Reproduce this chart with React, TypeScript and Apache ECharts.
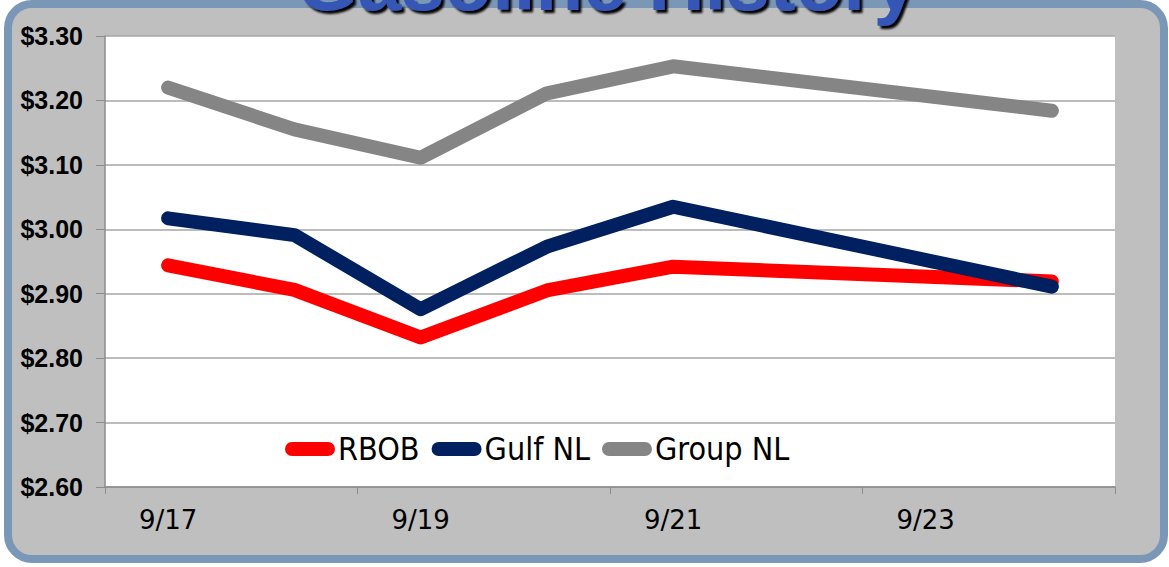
import React, { useEffect, useRef } from "react";
import * as echarts from "echarts";

const categories = ["9/17", "9/18", "9/19", "9/20", "9/21", "9/22", "9/23", "9/24"];
const rbob = [2.944, 2.906, 2.832, 2.905, 2.942, null, null, 2.919];
const gulfNL = [3.017, 2.991, 2.876, 2.973, 3.035, null, null, 2.911];
const groupNL = [3.22, 3.155, 3.111, 3.211, 3.253, null, null, 3.184];
const yTicks = { min: 2.6, max: 3.3, interval: 0.1 };
const title = "Gasoline History";

export default function App() {
  const ref = useRef<HTMLDivElement>(null);
  useEffect(() => {
    if (!ref.current) return;
    const chart = echarts.init(ref.current, null, { renderer: "svg" });
    const mkSeries = (name: string, data: (number | null)[], color: string) => ({
      name,
      type: "line",
      data,
      connectNulls: true,
      symbol: "none",
      color,
      lineStyle: { color, width: 14, cap: "round", join: "round" },
      z: 3,
    });
    chart.setOption({
      animation: false,
      graphic: [
        {
          type: "rect",
          shape: { x: 8, y: 4, width: 1156, height: 555, r: 24 },
          style: { fill: "#bfbfbf", stroke: "#7b97b8", lineWidth: 8 },
          z: -10,
          silent: true,
        },
        {
          type: "text",
          x: 607,
          y: -17,
          style: {
            text: title,
            fontFamily: "Liberation Sans",
            fontWeight: "bold",
            fontSize: 78,
            fill: "#3457b4",
            align: "center",
            verticalAlign: "middle",
            textShadowColor: "#000000",
            textShadowOffsetX: 3,
            textShadowOffsetY: 3,
            textShadowBlur: 2,
          },
          z: 100,
        },
      ],
      grid: {
        left: 105,
        right: 54,
        top: 36,
        bottom: 80,
        show: true,
        backgroundColor: "#ffffff",
        borderWidth: 0,
      },
      legend: {
        left: 285,
        top: 433,
        padding: 0,
        itemGap: 12,
        itemWidth: 50,
        itemHeight: 14,
        icon: "path://M7,0 L43,0 A7,7 0 0 1 43,14 L7,14 A7,7 0 0 1 7,0 Z",
        textStyle: {
          fontFamily: "Liberation Sans Narrow, DejaVu Sans Condensed, sans-serif",
          fontSize: 32,
          color: "#000000",
          padding: [0, 0, 0, -2],
        },
        data: ["RBOB", "Gulf NL", "Group NL"],
      },
      xAxis: {
        type: "category",
        data: categories,
        boundaryGap: true,
        axisLine: { lineStyle: { color: "#8c8c8c", width: 1.5 } },
        axisTick: { show: true, interval: 1, length: 7, lineStyle: { color: "#8c8c8c" } },
        axisLabel: {
          interval: 1,
          margin: 20,
          fontFamily: "DejaVu Sans",
          fontSize: 26,
          color: "#000000",
        },
        splitLine: { show: false },
      },
      yAxis: {
        type: "value",
        min: yTicks.min,
        max: yTicks.max,
        interval: yTicks.interval,
        axisLine: { show: true, lineStyle: { color: "#8c8c8c", width: 1.5 } },
        axisTick: { show: true, inside: false, length: 9, lineStyle: { color: "#8c8c8c" } },
        axisLabel: {
          margin: 22,
          fontFamily: "Liberation Sans",
          fontWeight: "bold",
          fontSize: 25,
          color: "#000000",
          formatter: (v: number) => "$" + v.toFixed(2),
        },
        splitLine: { lineStyle: { color: "#a6a6a6", width: 1.5 } },
      },
      series: [
        mkSeries("RBOB", rbob, "#ff0000"),
        mkSeries("Gulf NL", gulfNL, "#002060"),
        mkSeries("Group NL", groupNL, "#858585"),
      ],
    });
    return () => chart.dispose();
  }, []);
  return (
    <div
      ref={ref}
      style={{ position: "fixed", left: 0, top: 0, width: 1169, height: 567, background: "#ffffff" }}
    />
  );
}
